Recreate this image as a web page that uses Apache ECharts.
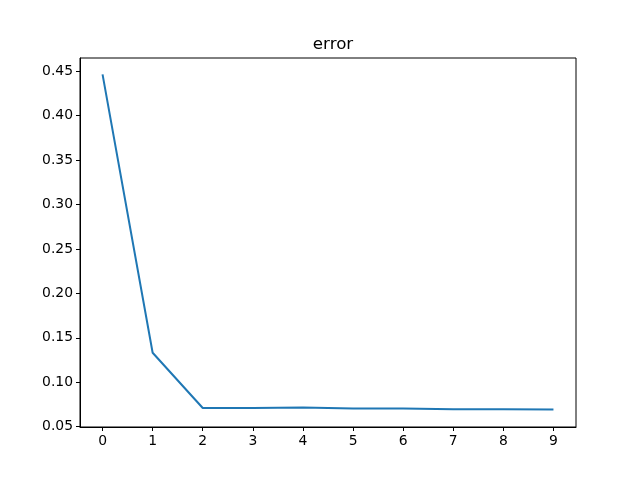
<!DOCTYPE html>
<html>
<head>
<meta charset="utf-8">
<script src="https://cdn.jsdelivr.net/npm/echarts@6/dist/echarts.min.js"></script>
<style>
  html, body { margin: 0; padding: 0; background: #fff; }
  #main { width: 640px; height: 480px; }
</style>
</head>
<body>
<div id="main"></div>
<script>
// epoch index and error values
const epochs = [0, 1, 2, 3, 4, 5, 6, 7, 8, 9];
const errors = [0.4463, 0.1332, 0.0711, 0.0710, 0.0716, 0.0704, 0.0705, 0.0696, 0.0696, 0.0694];
const xTicks = [0, 1, 2, 3, 4, 5, 6, 7, 8, 9];
const yTicks = [0.05, 0.10, 0.15, 0.20, 0.25, 0.30, 0.35, 0.40, 0.45];

const chart = echarts.init(document.getElementById('main'));
const font = 'DejaVu Sans';

const option = {
  animation: false,
  backgroundColor: '#fff',
  title: {
    text: 'error',
    left: 328,
    top: 31,
    textAlign: 'center',
    textStyle: { fontFamily: font, fontSize: 16.7, fontWeight: 'normal', color: '#000' }
  },
  grid: {
    left: 80, right: 64, top: 58, bottom: 53,
    show: true, borderColor: '#000', borderWidth: 1, backgroundColor: 'transparent'
  },
  xAxis: {
    type: 'value',
    min: -0.45,
    max: 9.45,
    splitLine: { show: false },
    axisLine: { show: true, onZero: false, lineStyle: { color: '#000', width: 1 } },
    axisTick: { show: true, customValues: xTicks, length: 4, lineStyle: { color: '#000' } },
    axisLabel: {
      customValues: xTicks,
      fontFamily: font, fontSize: 13.9, color: '#000', margin: 7
    }
  },
  yAxis: {
    type: 'value',
    min: 0.0497,
    max: 0.4647,
    splitLine: { show: false },
    axisLine: { show: true, onZero: false, lineStyle: { color: '#000', width: 1 } },
    axisTick: { show: true, customValues: yTicks, length: 4, lineStyle: { color: '#000' } },
    axisLabel: {
      customValues: yTicks,
      formatter: v => v.toFixed(2),
      fontFamily: font, fontSize: 13.9, color: '#000', margin: 7
    }
  },
  series: [{
    type: 'line',
    data: epochs.map((e, i) => [e, errors[i]]),
    showSymbol: false,
    lineStyle: { color: '#1f77b4', width: 2 }
  }]
};

chart.setOption(option);
</script>
</body>
</html>
